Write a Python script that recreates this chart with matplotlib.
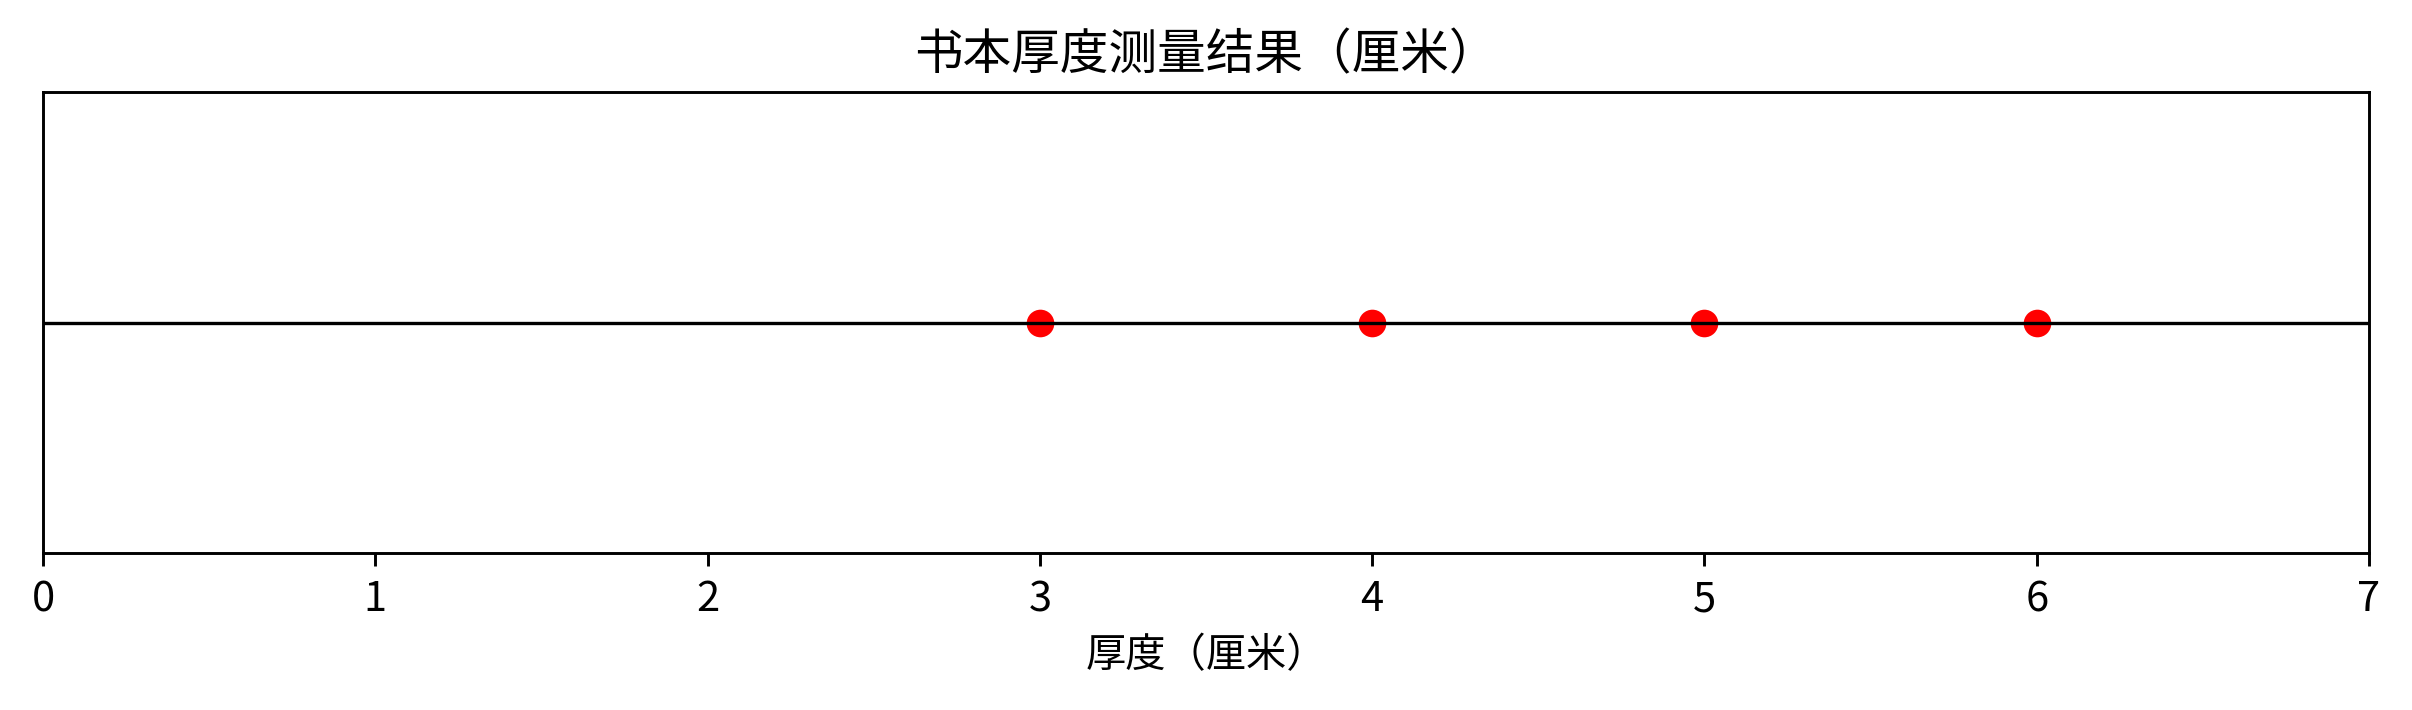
import matplotlib
matplotlib.use("Agg")
import matplotlib.pyplot as plt

plt.rcParams['font.family'] = ['Noto Sans CJK JP', 'DejaVu Sans']

# measured thickness values (cm)
thickness = [3, 4, 5, 6]
xticks = [0, 1, 2, 3, 4, 5, 6, 7]

fig, ax = plt.subplots(figsize=(12.06, 3.55), dpi=200)

ax.scatter(thickness, [0] * len(thickness), color="red", s=80, zorder=2)
ax.axhline(0, color="black", linewidth=1.2, zorder=3)

ax.set_xlim(0, 7)
ax.set_ylim(-1, 1)
ax.set_xticks(xticks)
ax.set_yticks([])
ax.tick_params(axis='x', labelsize=15, length=4.7, width=1.05, pad=4.7)
for s in ax.spines.values():
    s.set_linewidth(1.05)

ax.set_title("书本厚度测量结果（厘米）", fontsize=17.5, pad=8)
ax.set_xlabel("厚度（厘米）", fontsize=14.5, labelpad=5.3)

fig.subplots_adjust(left=43 / 2412, right=2369 / 2412, top=1 - 92 / 710, bottom=1 - 553 / 710)
fig.savefig("out.png", dpi=200)
